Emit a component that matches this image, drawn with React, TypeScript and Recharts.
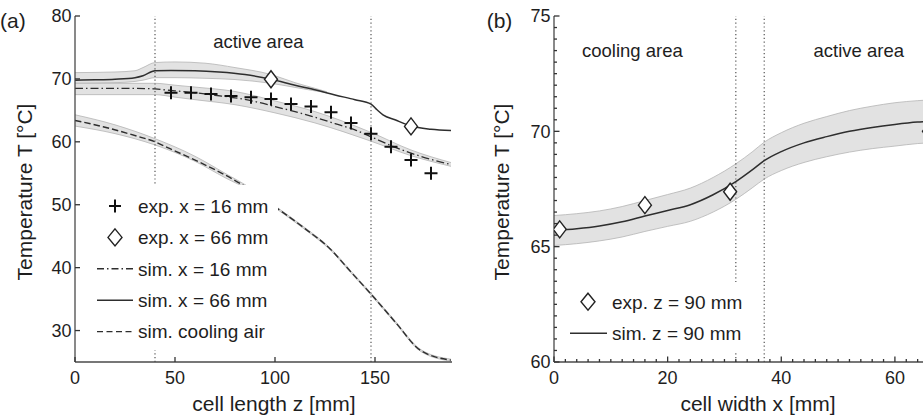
import React from 'react';
import {
  ComposedChart, Line, Area, Scatter, XAxis, YAxis, ReferenceLine, ReferenceDot, Legend, Label,
} from 'recharts';

const FONT = '"Liberation Sans", Arial, Helvetica, sans-serif';
const INK = '#1e1e1e';
const AXIS = '#4a4a4a';
const TICK = '#333';
const LINE = '#2e2e2e';
const BAND_FILL = '#e2e2e2';
const BAND_EDGE = '#b4b4b4';
const REF = '#555';

// ---------------- Panel (a): along the cell length ----------------
const aXTicks = [0, 50, 100, 150];
const aYTicks = [30, 40, 50, 60, 70, 80];
const aXDomain: [number, number] = [0, 188.5];
const aYDomain: [number, number] = [25, 80];
const aRefZ = [40, 148];

const simX66Z = [0, 10, 20, 30, 34, 40, 48, 60, 72, 85, 98, 110, 121, 130, 140, 148, 151, 154, 160, 168, 178, 188];
const simX66T = [69.8, 69.85, 69.95, 70.2, 70.5, 71.3, 71.35, 71.3, 71.1, 70.7, 69.95, 69.0, 68.2, 67.45, 66.7, 66.0, 65.1, 64.3, 63.5, 62.5, 62.0, 61.8];
const bandX66Z = [0, 20, 30, 34, 40, 50, 65, 80, 98, 110, 120, 126];
const bandX66Lo = [69.3, 69.4, 69.6, 69.8, 70.2, 70.2, 70.1, 69.9, 69.3, 68.65, 68.1, 67.8];
const bandX66Hi = [71.0, 71.1, 71.3, 71.8, 72.6, 72.7, 72.5, 71.8, 70.7, 69.4, 68.5, 67.95];

const simX16Z = [0, 20, 38, 40, 50, 60, 70, 80, 90, 100, 110, 120, 130, 140, 148, 158, 168, 178, 188];
const simX16T = [68.5, 68.5, 68.45, 68.4, 68.1, 67.8, 67.4, 67.0, 66.4, 65.6, 64.8, 63.9, 62.9, 61.9, 60.8, 59.4, 58.2, 57.2, 56.4];
const bandX16Z = [0, 40, 50, 60, 80, 100, 120, 148, 168, 188];
const bandX16Lo = [67.5, 67.5, 67.1, 66.7, 65.9, 64.6, 63.0, 60.1, 57.8, 56.1];
const bandX16Hi = [69.3, 69.3, 69.0, 68.7, 68.0, 66.5, 64.8, 61.5, 58.7, 56.7];

const coolZ = [0, 14, 31, 40, 47.5, 64, 82.5, 102.5, 115, 127.5, 138, 148, 160, 173, 188];
const coolT = [63.4, 62.4, 60.9, 60.0, 58.9, 56.5, 53.4, 49.1, 46.2, 43.0, 39.3, 35.8, 31.4, 26.8, 25.3];
const coolBandZ = [0, 20, 40, 60, 75, 88, 102.5, 115, 127.5, 138, 148, 160, 173, 188];
const coolBandLo = [62.5, 61.3, 59.5, 56.9, 54.3, 52.2, 48.95, 46.05, 42.85, 39.15, 35.65, 31.25, 26.65, 25.15];
const coolBandHi = [64.3, 62.7, 60.5, 57.7, 55.0, 52.6, 49.25, 46.35, 43.15, 39.45, 35.95, 31.55, 26.95, 25.45];

const expX16Z = [48, 58, 68, 78, 88, 98, 108, 118, 128, 138, 148, 158, 168, 178];
const expX16T = [67.8, 67.8, 67.6, 67.3, 67.1, 66.8, 66.0, 65.6, 64.7, 63.0, 61.3, 59.2, 57.1, 55.0];
const expX66Z = [98, 168];
const expX66T = [69.95, 62.45];

const legendA = [
  { label: 'exp. x = 16 mm', kind: 'plus' },
  { label: 'exp. x = 66 mm', kind: 'diamond' },
  { label: 'sim. x = 16 mm', kind: 'dashdot' },
  { label: 'sim. x = 66 mm', kind: 'solid' },
  { label: 'sim. cooling air', kind: 'dashed' },
];

// ---------------- Panel (b): across the cell width ----------------
const bXTicks = [0, 20, 40, 60];
const bYTicks = [60, 65, 70, 75];
const bXDomain: [number, number] = [0, 66];
const bYDomain: [number, number] = [60, 75];
const bRefX = [32, 37];

const simZ90X = [0, 4, 8, 12, 16, 20, 24, 28, 32, 35, 37, 40, 44, 48, 52, 56, 60, 64, 66];
const simZ90T = [65.7, 65.78, 65.9, 66.08, 66.33, 66.57, 66.82, 67.25, 67.82, 68.35, 68.73, 69.12, 69.5, 69.77, 70.0, 70.17, 70.3, 70.4, 70.43];
const bandZ90Lo = [65.05, 65.13, 65.25, 65.42, 65.66, 65.88, 66.1, 66.5, 67.05, 67.57, 67.93, 68.3, 68.65, 68.9, 69.1, 69.25, 69.36, 69.47, 69.5];
const bandZ90Hi = [66.35, 66.43, 66.55, 66.74, 67.0, 67.26, 67.54, 68.0, 68.59, 69.13, 69.53, 69.94, 70.35, 70.64, 70.9, 71.09, 71.24, 71.33, 71.36];

const expZ90X = [1, 16, 31, 66];
const expZ90T = [65.75, 66.8, 67.38, 70.0];

const legendB = [
  { label: 'exp. z = 90 mm', kind: 'diamond' },
  { label: 'sim. z = 90 mm', kind: 'solid' },
];

// ---------------- helpers ----------------
const pts = (xs: number[], ys: number[]) => xs.map((x, i) => ({ x, y: ys[i] }));
const band = (xs: number[], lo: number[], hi: number[]) => xs.map((x, i) => ({ x, band: [lo[i], hi[i]] }));
const steps = (from: number, to: number, step: number) => {
  const out: number[] = [];
  for (let v = from; v <= to + 1e-9; v += step) out.push(Math.round(v * 1000) / 1000);
  return out;
};
const isMajor = (v: number, majors: number[]) => majors.some((m) => Math.abs(m - v) < 1e-6);

type Side = 'bottom' | 'top' | 'left' | 'right';
function makeTick(side: Side, majors: number[], showLabel: boolean, majorLen: number, minorLen: number) {
  return (p: any) => {
    const { x, y, payload } = p;
    const v = payload.value;
    const major = isMajor(v, majors);
    const len = major ? majorLen : minorLen;
    let x2 = x, y2 = y;
    if (side === 'bottom') y2 = y - len;
    if (side === 'top') y2 = y + len;
    if (side === 'left') x2 = x + len;
    if (side === 'right') x2 = x - len;
    let label = null;
    if (showLabel && major) {
      if (side === 'bottom') {
        label = (
          <text x={x} y={y + 22} textAnchor="middle" fill={INK} fontSize={18} fontFamily={FONT}>{v}</text>
        );
      } else if (side === 'left') {
        label = (
          <text x={x - 3.5} y={y + 6.4} textAnchor="end" fill={INK} fontSize={18} fontFamily={FONT}>{v}</text>
        );
      }
    }
    return (
      <g>
        {len > 0 && <line x1={x} y1={y} x2={x2} y2={y2} stroke={TICK} strokeWidth={1.3} />}
        {label}
      </g>
    );
  };
}

const crossShape = (p: any) => {
  const { cx, cy } = p;
  if (cx == null || cy == null) return <g />;
  return <path d={`M${cx - 6.5},${cy}h13M${cx},${cy - 6.5}v13`} stroke="#111" strokeWidth={2} fill="none" />;
};
const diamondShape = (p: any) => {
  const { cx, cy } = p;
  if (cx == null || cy == null) return <g />;
  return (
    <path
      d={`M${cx},${cy - 8.5}L${cx + 6.5},${cy}L${cx},${cy + 8.5}L${cx - 6.5},${cy}Z`}
      fill="#fff" stroke="#222" strokeWidth={1.4}
    />
  );
};

const anno = (text: string) => (props: any) => {
  const vb = props.viewBox || {};
  const cx = (vb.x ?? 0) + (vb.width ?? 0) / 2;
  const cy = (vb.y ?? 0) + (vb.height ?? 0) / 2;
  return (
    <text x={cx} y={cy} dy="0.355em" textAnchor="middle" fill={INK} fontSize={18.5} fontFamily={FONT}>{text}</text>
  );
};

function LegendSymbol({ kind, sx, l1, l2, cy }: { kind: string; sx: number; l1: number; l2: number; cy: number }) {
  if (kind === 'plus') return <path d={`M${sx - 6},${cy}h12M${sx},${cy - 6.5}v13`} stroke="#111" strokeWidth={2} />;
  if (kind === 'diamond')
    return <path d={`M${sx},${cy - 8.5}L${sx + 7},${cy}L${sx},${cy + 8.5}L${sx - 7},${cy}Z`} fill="#fff" stroke="#222" strokeWidth={1.4} />;
  const dash = kind === 'dashdot' ? '7 3 1.5 3' : kind === 'dashed' ? '6 3.5' : undefined;
  return <line x1={l1} x2={l2} y1={cy} y2={cy} stroke={LINE} strokeWidth={1.4} strokeDasharray={dash} />;
}

function LegendBox({ items, width, height, firstY, rowH, sx, l1, l2, tx }: any) {
  return (
    <svg width={width} height={height} style={{ display: 'block', background: '#fff' }}>
      {items.map((it: any, i: number) => {
        const cy = firstY + i * rowH;
        return (
          <g key={it.label}>
            <LegendSymbol kind={it.kind} sx={sx} l1={l1} l2={l2} cy={cy} />
            <text x={tx} y={cy + 6.8} fill={INK} fontSize={19} fontFamily={FONT}>{it.label}</text>
          </g>
        );
      })}
    </svg>
  );
}

const yLabel = (cx: number, cy: number) => () => (
  <text x={cx} y={cy} transform={`rotate(-90 ${cx} ${cy})`} textAnchor="middle" dy="0.355em" fill={INK} fontSize={21} fontFamily={FONT}>
    Temperature T [°C]
  </text>
);
const xLabel = (text: string, cx: number, y: number) => () => (
  <text x={cx} y={y} textAnchor="middle" fill={INK} fontSize={21} fontFamily={FONT}>{text}</text>
);

// ---------------- charts ----------------
function PanelA() {
  return (
    <ComposedChart width={460} height={420} margin={{ top: 16, right: 8, bottom: 0, left: 0 }}>
      <XAxis
        xAxisId={0} type="number" dataKey="x" domain={aXDomain} ticks={aXTicks} interval={0}
        allowDataOverflow height={58} tickSize={0} tickMargin={0} tickLine={false}
        axisLine={{ stroke: AXIS, strokeWidth: 1.3 }} tick={makeTick('bottom', aXTicks, true, 5, 0)}
      >
        <Label content={xLabel('cell length z [mm]', 274, 411)} />
      </XAxis>
      <XAxis
        xAxisId="top" orientation="top" type="number" dataKey="x" domain={aXDomain} ticks={aXTicks} interval={0}
        allowDataOverflow height={0} tickSize={0} tickMargin={0} tickLine={false}
        axisLine={{ stroke: AXIS, strokeWidth: 1.3 }} tick={makeTick('top', aXTicks, false, 5, 0)}
      />
      <YAxis
        yAxisId={0} type="number" domain={aYDomain} ticks={aYTicks} interval={0} allowDataOverflow
        width={75} tickSize={0} tickMargin={0} tickLine={false}
        axisLine={{ stroke: AXIS, strokeWidth: 1.3 }} tick={makeTick('left', aYTicks, true, 5, 0)}
      >
        <Label content={yLabel(24.2, 192)} />
      </YAxis>
      <YAxis
        yAxisId="right" orientation="right" type="number" domain={aYDomain} ticks={aYTicks} interval={0}
        allowDataOverflow width={0} tickSize={0} tickMargin={0} tickLine={false}
        axisLine={{ stroke: AXIS, strokeWidth: 1.3 }} tick={makeTick('right', aYTicks, false, 5, 0)}
      />

      <Area data={band(bandX66Z, bandX66Lo, bandX66Hi)} dataKey="band" type="monotone" fill={BAND_FILL} fillOpacity={1} stroke={BAND_EDGE} strokeWidth={0.8} isAnimationActive={false} legendType="none" />
      <Area data={band(bandX16Z, bandX16Lo, bandX16Hi)} dataKey="band" type="monotone" fill={BAND_FILL} fillOpacity={1} stroke={BAND_EDGE} strokeWidth={0.8} isAnimationActive={false} legendType="none" />
      <Area data={band(coolBandZ, coolBandLo, coolBandHi)} dataKey="band" type="monotone" fill={BAND_FILL} fillOpacity={1} stroke={BAND_EDGE} strokeWidth={0.8} isAnimationActive={false} legendType="none" />

      {aRefZ.map((z) => (
        <ReferenceLine key={z} x={z} stroke={REF} strokeWidth={1.2} strokeDasharray="1.2 2.6" />
      ))}

      <Line data={pts(coolZ, coolT)} dataKey="y" type="monotone" stroke={LINE} strokeWidth={1.4} strokeDasharray="6.5 3" dot={false} isAnimationActive={false} />
      <Line data={pts(simX16Z, simX16T)} dataKey="y" type="monotone" stroke={LINE} strokeWidth={1.3} strokeDasharray="8 3 1.5 3" dot={false} isAnimationActive={false} />
      <Line data={pts(simX66Z, simX66T)} dataKey="y" type="monotone" stroke={LINE} strokeWidth={1.5} dot={false} isAnimationActive={false} />

      <Scatter data={pts(expX16Z, expX16T)} dataKey="y" shape={crossShape} isAnimationActive={false} />
      <Scatter data={pts(expX66Z, expX66T)} dataKey="y" shape={diamondShape} isAnimationActive={false} />

      <ReferenceDot x={91.7} y={75.95} r={0} fill="none" stroke="none" label={anno('active area')} />

      <Legend
        layout="vertical" align="center" verticalAlign="middle"
        wrapperStyle={{ left: 86, top: 185, width: 192, height: 165 }}
        content={() => (
          <LegendBox items={legendA} width={192} height={165} firstY={21} rowH={31.4} sx={29} l1={11} l2={47} tx={52} />
        )}
      />
    </ComposedChart>
  );
}

function PanelB() {
  const minorX = steps(bXDomain[0], bXDomain[1], 2);
  const minorY = steps(bYDomain[0], bYDomain[1], 0.5);
  return (
    <ComposedChart width={480} height={420} margin={{ top: 16, right: 11, bottom: 0, left: 0 }}>
      <XAxis
        xAxisId={0} type="number" dataKey="x" domain={bXDomain} ticks={minorX} interval={0}
        allowDataOverflow height={58} tickSize={0} tickMargin={0} tickLine={false}
        axisLine={{ stroke: AXIS, strokeWidth: 1.3 }} tick={makeTick('bottom', bXTicks, true, 5.5, 3)}
      >
        <Label content={xLabel('cell width x [mm]', 298, 411)} />
      </XAxis>
      <XAxis
        xAxisId="top" orientation="top" type="number" dataKey="x" domain={bXDomain} ticks={minorX} interval={0}
        allowDataOverflow height={0} tickSize={0} tickMargin={0} tickLine={false}
        axisLine={{ stroke: AXIS, strokeWidth: 1.3 }} tick={makeTick('top', bXTicks, false, 5.5, 3)}
      />
      <YAxis
        yAxisId={0} type="number" domain={bYDomain} ticks={minorY} interval={0} allowDataOverflow
        width={94} tickSize={0} tickMargin={0} tickLine={false}
        axisLine={{ stroke: AXIS, strokeWidth: 1.3 }} tick={makeTick('left', bYTicks, true, 5.5, 3)}
      >
        <Label content={yLabel(41.7, 192)} />
      </YAxis>
      <YAxis
        yAxisId="right" orientation="right" type="number" domain={bYDomain} ticks={minorY} interval={0}
        allowDataOverflow width={0} tickSize={0} tickMargin={0} tickLine={false}
        axisLine={{ stroke: AXIS, strokeWidth: 1.3 }} tick={makeTick('right', bYTicks, false, 5.5, 3)}
      />

      <Area data={band(simZ90X, bandZ90Lo, bandZ90Hi)} dataKey="band" type="monotone" fill={BAND_FILL} fillOpacity={1} stroke={BAND_EDGE} strokeWidth={0.8} isAnimationActive={false} legendType="none" />

      {bRefX.map((x) => (
        <ReferenceLine key={x} x={x} stroke={REF} strokeWidth={1.2} strokeDasharray="1.2 2.6" />
      ))}

      <Line data={pts(simZ90X, simZ90T)} dataKey="y" type="monotone" stroke={LINE} strokeWidth={1.5} dot={false} isAnimationActive={false} />
      <Scatter data={pts(expZ90X, expZ90T)} dataKey="y" shape={diamondShape} isAnimationActive={false} />

      <ReferenceDot x={13.8} y={73.51} r={0} fill="none" stroke="none" label={anno('cooling area')} />
      <ReferenceDot x={53.65} y={73.51} r={0} fill="none" stroke="none" label={anno('active area')} />

      <Legend
        layout="vertical" align="center" verticalAlign="middle"
        wrapperStyle={{ left: 102, top: 282, width: 183, height: 70 }}
        content={() => (
          <LegendBox items={legendB} width={183} height={70} firstY={19.7} rowH={31.6} sx={26} l1={8} l2={45} tx={50} />
        )}
      />
    </ComposedChart>
  );
}

export default function App() {
  return (
    <div style={{ position: 'fixed', left: 0, top: 0, width: 923, height: 420, overflow: 'hidden', background: '#fff' }}>
      <div style={{ position: 'absolute', left: 0, top: 0 }}>
        <PanelA />
      </div>
      <div style={{ position: 'absolute', left: 460, top: 0 }}>
        <PanelB />
      </div>
      <svg width={923} height={40} style={{ position: 'absolute', left: 0, top: 0, pointerEvents: 'none' }}>
        <text x={0} y={28} fill={INK} fontSize={21} fontFamily={FONT}>(a)</text>
        <text x={486.7} y={28} fill={INK} fontSize={21} fontFamily={FONT}>(b)</text>
      </svg>
    </div>
  );
}
